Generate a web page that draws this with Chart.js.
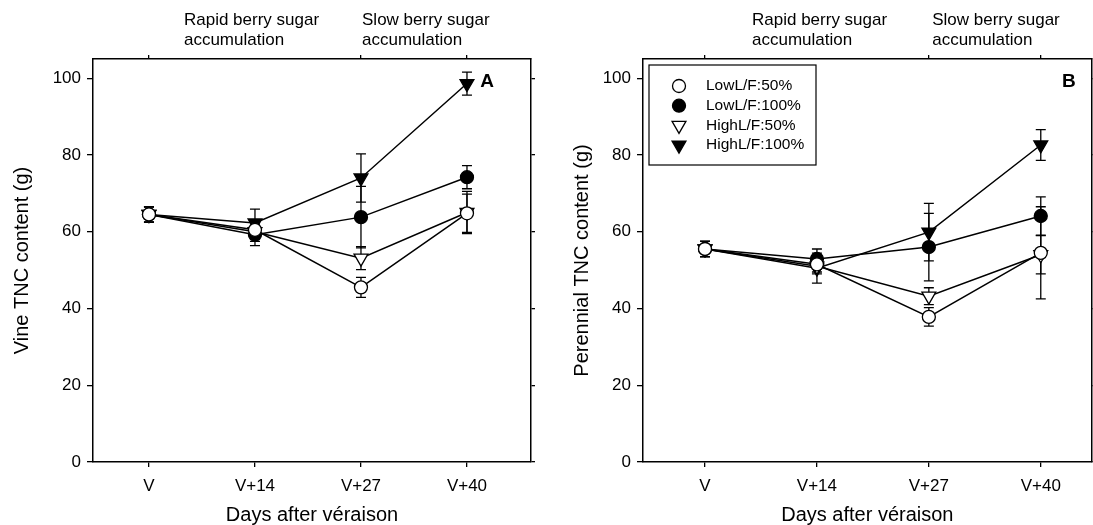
<!DOCTYPE html>
<html>
<head>
<meta charset="utf-8">
<script src="https://cdn.jsdelivr.net/npm/chart.js"></script>
<style>
html, body { margin: 0; padding: 0; background: #fff; overflow: hidden; }
#wrap { position: relative; width: 1093px; height: 525px; overflow: hidden; }
canvas { position: absolute; top: 0; }
#chartA { left: 0; }
#chartB { left: 560px; }
</style>
</head>
<body>
<div id="wrap">
  <canvas id="chartA" width="560" height="525"></canvas>
  <canvas id="chartB" width="541" height="525"></canvas>
</div>
<script>
const categories = ['V', 'V+14', 'V+27', 'V+40'];
const seriesNames = ['LowL/F:50%', 'LowL/F:100%', 'HighL/F:50%', 'HighL/F:100%'];
const yTicks = [0, 20, 40, 60, 80, 100];

// Panel A - vine TNC (g)
const vineLow50 = [64.5, 60.5, 45.5, 64.8];
const vineLow50Err = [2.0, 2.0, 2.6, 5.0];
const vineLow100 = [64.5, 59.2, 63.8, 74.2];
const vineLow100Err = [2.0, 2.8, 8.0, 3.0];
const vineHigh50 = [64.5, 60.0, 53.1, 65.0];
const vineHigh50Err = [2.0, 2.5, 3.0, 5.5];
const vineHigh100 = [64.5, 62.3, 74.0, 98.6];
const vineHigh100Err = [2.0, 3.6, 6.3, 3.0];

// Panel B - perennial TNC (g)
const perLow50 = [55.5, 51.5, 37.8, 54.5];
const perLow50Err = [2.0, 2.0, 2.4, 12.0];
const perLow100 = [55.5, 52.9, 56.0, 64.1];
const perLow100Err = [2.0, 2.6, 8.8, 5.0];
const perHigh50 = [55.5, 51.0, 43.2, 54.0];
const perHigh50Err = [2.0, 2.0, 2.2, 5.0];
const perHigh100 = [55.5, 50.5, 59.9, 82.6];
const perHigh100Err = [2.0, 3.9, 7.5, 4.0];

Chart.defaults.font.family = "'Liberation Sans', Arial, sans-serif";
Chart.defaults.color = '#000';

const markers = [
    { style: 'circle', fill: '#fff', r: 6.5, rot: 0 },
    { style: 'circle', fill: '#000', r: 6.5, rot: 0 },
    { style: 'triangle', fill: '#fff', r: 8, rot: 180 },
    { style: 'triangle', fill: '#000', r: 8, rot: 180 }
];

function makeDatasets(vals, errs) {
    return vals.map((v, k) => ({
        label: seriesNames[k],
        data: v.map((y, i) => ({ x: i, y: y })),
        errors: errs[k],
        borderColor: '#000',
        borderWidth: 1.5,
        pointStyle: markers[k].style,
        pointRadius: markers[k].r,
        pointRotation: markers[k].rot,
        pointBackgroundColor: markers[k].fill,
        pointBorderColor: '#000',
        pointBorderWidth: 1.3,
        tension: 0,
        fill: false
    }));
}

// error bars, drawn under the lines and markers
const errorBars = {
    id: 'errorBars',
    beforeDatasetsDraw(chart) {
        const { ctx, scales: { x, y } } = chart;
        ctx.save();
        ctx.strokeStyle = '#000';
        ctx.lineWidth = 1.3;
        chart.data.datasets.forEach(ds => {
            ds.data.forEach((p, i) => {
                const e = ds.errors[i];
                const px = x.getPixelForValue(p.x);
                const t = y.getPixelForValue(p.y + e);
                const b = y.getPixelForValue(p.y - e);
                ctx.beginPath();
                ctx.moveTo(px, t); ctx.lineTo(px, b);
                ctx.moveTo(px - 5, t); ctx.lineTo(px + 5, t);
                ctx.moveTo(px - 5, b); ctx.lineTo(px + 5, b);
                ctx.stroke();
            });
        });
        ctx.restore();
    }
};

// phase notes above the plot + panel letter
const panelText = {
    id: 'panelText',
    afterDraw(chart, args, opts) {
        const { ctx, scales: { x }, chartArea } = chart;
        ctx.save();
        ctx.fillStyle = '#000';
        ctx.textBaseline = 'middle';
        ctx.textAlign = 'left';
        ctx.font = "17px 'Liberation Sans', Arial, sans-serif";
        opts.notes.forEach(n => {
            const px = x.getPixelForValue(n.x);
            n.lines.forEach((line, j) => ctx.fillText(line, px, 20 + j * 20));
        });
        ctx.textAlign = 'center';
        ctx.font = "bold 19px 'Liberation Sans', Arial, sans-serif";
        ctx.fillText(opts.letter, x.getPixelForValue(opts.letterX), chartArea.top + 23);
        ctx.restore();
    }
};

function drawMarker(ctx, m, cx, cy) {
    ctx.beginPath();
    if (m.style === 'circle') {
        ctx.arc(cx, cy, m.r, 0, Math.PI * 2);
    } else {
        const r = m.r;
        ctx.moveTo(cx, cy + r);
        ctx.lineTo(cx - r * Math.sin(Math.PI / 3), cy - r / 2);
        ctx.lineTo(cx + r * Math.sin(Math.PI / 3), cy - r / 2);
        ctx.closePath();
    }
    ctx.fillStyle = m.fill;
    ctx.fill();
    ctx.lineWidth = 1.3;
    ctx.strokeStyle = '#000';
    ctx.stroke();
}

const boxLegend = {
    id: 'boxLegend',
    afterDraw(chart, args, opts) {
        if (!opts.show) return;
        const { ctx, chartArea } = chart;
        const left = chartArea.left + 6, top = chartArea.top + 6;
        ctx.save();
        ctx.fillStyle = '#fff';
        ctx.fillRect(left, top, 167, 100);
        ctx.strokeStyle = '#000';
        ctx.lineWidth = 1.2;
        ctx.strokeRect(left, top, 167, 100);
        ctx.font = "15.5px 'Liberation Sans', Arial, sans-serif";
        ctx.textBaseline = 'middle';
        ctx.textAlign = 'left';
        seriesNames.forEach((name, k) => {
            const cy = top + 21 + k * 19.7;
            drawMarker(ctx, markers[k], left + 30, cy);
            ctx.fillStyle = '#000';
            ctx.fillText(name, left + 57, cy);
        });
        ctx.restore();
    }
};

function noPad(s) {
    s.paddingLeft = 0; s.paddingRight = 0; s.paddingTop = 0; s.paddingBottom = 0;
}

function makeOptions(cfg) {
    const tickGrid = len => ({ drawOnChartArea: false, drawTicks: true, tickLength: len, color: '#000', lineWidth: 1.3 });
    const border = { display: true, color: '#000', width: 1.5 };
    return {
        responsive: false,
        animation: false,
        layout: { padding: 0 },
        plugins: {
            legend: { display: false },
            tooltip: { enabled: false },
            panelText: { notes: cfg.notes, letter: cfg.letter, letterX: cfg.letterX },
            boxLegend: { show: cfg.legend }
        },
        scales: {
            x: {
                type: 'linear', position: 'bottom', min: cfg.xmin, max: cfg.xmax,
                afterBuildTicks: s => { s.ticks = categories.map((c, i) => ({ value: i })); },
                ticks: { callback: v => categories[v], font: { size: 17 }, color: '#000', padding: 9, maxRotation: 0 },
                grid: tickGrid(5), border: border,
                title: { display: true, text: 'Days after véraison', font: { size: 20, lineHeight: 1 }, color: '#000', padding: { top: 0, bottom: 0 } },
                afterFit: s => { s.height = 63; noPad(s); }
            },
            x2: {
                type: 'linear', position: 'top', min: cfg.xmin, max: cfg.xmax,
                afterBuildTicks: s => { s.ticks = [0, 2, 3].map(v => ({ value: v })); },
                ticks: { callback: () => '', padding: 0 },
                grid: tickGrid(4), border: border,
                afterFit: s => { s.height = 59; noPad(s); }
            },
            y: {
                type: 'linear', position: 'left', min: 0, max: 105,
                afterBuildTicks: s => { s.ticks = yTicks.map(v => ({ value: v })); },
                ticks: { font: { size: 17 }, color: '#000', padding: 6 },
                grid: tickGrid(6), border: border,
                title: { display: true, text: cfg.yTitle, font: { size: 20, lineHeight: 1 }, color: '#000', padding: { top: 12, bottom: 0 } },
                afterFit: s => { s.width = cfg.leftW; noPad(s); }
            },
            y2: {
                type: 'linear', position: 'right', min: 0, max: 105,
                afterBuildTicks: s => { s.ticks = yTicks.map(v => ({ value: v })); },
                ticks: { callback: () => '', padding: 0 },
                grid: tickGrid(4), border: border,
                afterFit: s => { s.width = cfg.rightW; noPad(s); }
            }
        }
    };
}

new Chart(document.getElementById('chartA'), {
    type: 'line',
    data: {
        datasets: makeDatasets(
            [vineLow50, vineLow100, vineHigh50, vineHigh100],
            [vineLow50Err, vineLow100Err, vineHigh50Err, vineHigh100Err])
    },
    options: makeOptions({
        xmin: -0.528, xmax: 3.604, leftW: 93, rightW: 29,
        yTitle: 'Vine TNC content (g)', letter: 'A', letterX: 3.19, legend: false,
        notes: [
            { x: 0.33, lines: ['Rapid berry sugar', 'accumulation'] },
            { x: 2.01, lines: ['Slow berry sugar', 'accumulation'] }
        ]
    }),
    plugins: [errorBars, panelText, boxLegend]
});

// panel B canvas runs a little past the page edge, as the source figure is cropped there
new Chart(document.getElementById('chartB'), {
    type: 'line',
    data: {
        datasets: makeDatasets(
            [perLow50, perLow100, perHigh50, perHigh100],
            [perLow50Err, perLow100Err, perHigh50Err, perHigh100Err])
    },
    options: makeOptions({
        xmin: -0.554, xmax: 3.455, leftW: 83, rightW: 1,
        yTitle: 'Perennial TNC content (g)', letter: 'B', letterX: 3.25, legend: true,
        notes: [
            { x: 0.42, lines: ['Rapid berry sugar', 'accumulation'] },
            { x: 2.03, lines: ['Slow berry sugar', 'accumulation'] }
        ]
    }),
    plugins: [errorBars, panelText, boxLegend]
});
</script>
</body>
</html>
